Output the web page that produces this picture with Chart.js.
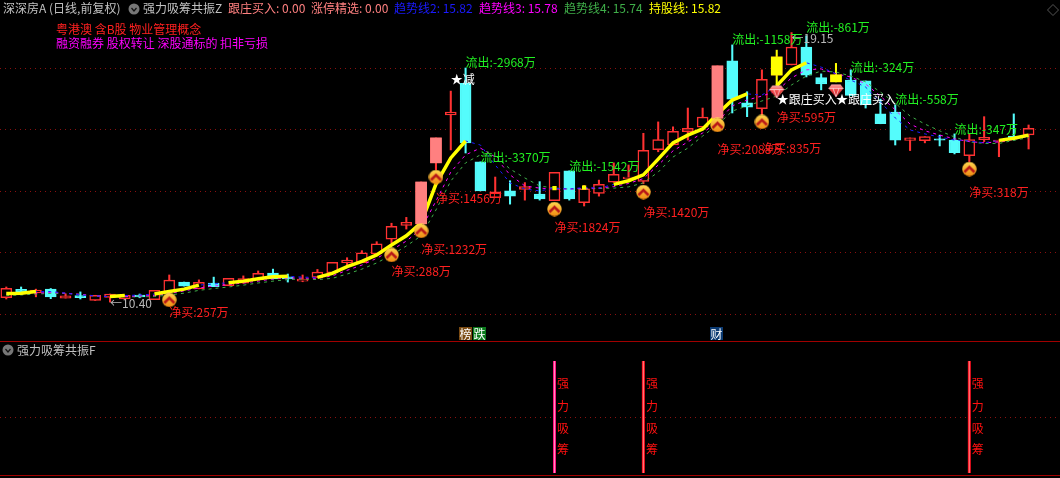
<!DOCTYPE html>
<html>
<head>
<meta charset="utf-8">
<script src="https://cdn.jsdelivr.net/npm/chart.js@4/dist/chart.umd.min.js"></script>
<style>
    html, body { margin: 0; background: #000; }
    #stage { position: relative; width: 1060px; height: 478px; overflow: hidden; background: #000; font: 12px "Noto Sans CJK SC", sans-serif; }
    #stage canvas { position: absolute; left: 0; }
    .txt { position: absolute; white-space: pre; line-height: 14px; }
    .ico { position: absolute; }
    .rule { position: absolute; left: 0; width: 1060px; height: 1px; background: #a00000; }
</style>
</head>
<body>
<div id="stage">
    <canvas id="priceChart" width="1060" height="341" style="top:0"></canvas>
    <canvas id="signalChart" width="1060" height="137" style="top:341px"></canvas>
    <div class="rule" style="top:341px"></div>
    <div class="rule" style="top:475px"></div>

    <span class="txt" style="left:3px;top:1px;color:#c0c0c0">深深房A (日线,前复权)</span>
    <svg class="ico" style="left:128px;top:3px" width="12" height="12"><circle cx="6" cy="6" r="5.5" fill="#777"/><path d="M3.5 5 L6 8 L8.5 5" stroke="#111" stroke-width="1.2" fill="none"/></svg>
    <span class="txt" style="left:143px;top:1px;color:#c0c0c0">强力吸筹共振Z</span>
    <span class="txt" style="left:228px;top:1px;color:#ff8080">跟庄买入: 0.00</span>
    <span class="txt" style="left:311px;top:1px;color:#ff8080">涨停精选: 0.00</span>
    <span class="txt" style="left:394px;top:1px;color:#1a1aff">趋势线2: 15.82</span>
    <span class="txt" style="left:479px;top:1px;color:#ff00ff">趋势线3: 15.78</span>
    <span class="txt" style="left:564px;top:1px;color:#3fae49">趋势线4: 15.74</span>
    <span class="txt" style="left:649px;top:1px;color:#ffff00">持股线: 15.82</span>
    <span class="txt" style="left:56px;top:22px;color:#ff2020">粤港澳 含B股 物业管理概念</span>
    <span class="txt" style="left:56px;top:36px;color:#ff00ff">融资融券 股权转让 深股通标的 扣非亏损</span>
    <svg class="ico" style="left:1047px;top:4px" width="12" height="12"><path d="M6 0.5 L11.5 6 L6 11.5 L0.5 6 Z" stroke="#555" fill="none"/></svg>

    <svg class="ico" style="left:2px;top:344px" width="12" height="12"><circle cx="6" cy="6" r="5.5" fill="#777"/><path d="M3.5 5 L6 8 L8.5 5" stroke="#111" stroke-width="1.2" fill="none"/></svg>
    <span class="txt" style="left:17px;top:343px;color:#c0c0c0">强力吸筹共振F</span>
</div>

<script>
// candles
const opens  = [10.54,10.81,10.70,10.82,10.53,10.61,10.45,10.55,10.50,10.63,
                10.48,10.73,11.05,10.83,11.02,10.93,11.01,11.12,11.34,11.22,
                11.08,11.20,11.35,11.68,11.68,11.96,12.44,12.89,12.94,14.92,
                16.48,17.50,14.95,13.79,14.01,14.06,13.91,13.69,14.66,13.63,
                13.93,14.29,14.40,14.32,15.35,15.50,15.93,16.08,16.37,18.23,
                16.87,16.68,17.77,18.10,18.68,17.69,17.55,17.61,17.58,16.51,
                16.57,15.65,15.64,15.70,15.66,15.15,15.67,15.60,15.79,15.83];
const highs  = [10.89,10.89,10.82,10.84,10.67,10.73,10.62,10.66,10.62,10.66,
                10.78,11.28,11.05,11.12,11.21,11.17,11.25,11.41,11.47,11.31,
                11.28,11.46,11.69,11.84,12.07,12.36,12.96,13.15,14.30,15.73,
                17.25,18.00,14.95,14.46,14.34,14.28,14.31,14.61,14.66,14.19,
                14.36,14.92,14.85,15.88,16.25,16.09,16.70,16.70,18.07,18.75,
                17.23,17.94,18.58,19.15,19.04,17.81,18.15,17.94,17.58,16.99,
                16.80,15.73,15.77,15.82,15.86,15.86,16.42,15.66,16.51,16.15];
const lows   = [10.50,10.70,10.57,10.51,10.53,10.50,10.45,10.40,10.50,10.54,
                10.48,10.66,10.92,10.83,10.90,10.93,11.01,11.12,11.15,11.05,
                11.06,11.20,11.35,11.60,11.68,11.96,12.32,12.77,12.94,14.69,
                15.34,15.24,14.01,13.79,13.58,13.71,13.71,13.69,13.71,13.52,
                13.84,14.29,14.36,14.24,15.28,15.50,15.66,16.08,16.37,16.54,
                16.42,16.47,17.42,18.10,17.71,17.29,17.55,17.11,16.70,16.19,
                15.50,15.32,15.57,15.47,15.21,14.96,15.61,15.12,15.66,15.37];
const closes = [10.85,10.73,10.79,10.57,10.60,10.54,10.62,10.66,10.62,10.57,
                10.78,11.11,10.92,11.04,10.90,11.17,11.16,11.33,11.15,11.15,
                11.15,11.37,11.69,11.76,12.00,12.29,12.86,12.99,14.30,15.73,
                16.57,15.57,14.01,13.98,13.84,14.15,13.75,14.61,13.75,14.08,
                14.22,14.55,14.46,15.33,15.68,15.94,16.04,16.41,18.07,16.99,
                16.73,17.63,18.36,18.68,17.77,17.48,17.78,17.11,16.81,16.19,
                15.66,15.73,15.77,15.66,15.25,15.68,15.75,15.66,15.70,16.04];

// indicator lines
const trend2 = [10.68,10.69,10.74,10.74,10.69,10.63,10.60,10.58,10.61,10.63,
                10.66,10.74,10.82,10.95,10.99,11.03,11.08,11.16,11.22,11.24,
                11.21,11.20,11.33,11.55,11.72,11.93,12.25,12.55,12.97,14.23,
                15.08,15.63,15.50,14.85,14.27,14.07,14.01,14.10,14.07,14.12,
                14.10,14.22,14.34,14.53,15.04,15.57,15.82,16.02,16.51,16.96,
                17.16,17.12,17.42,17.94,18.17,18.03,17.81,17.61,17.38,16.90,
                16.38,15.99,15.86,15.76,15.66,15.63,15.57,15.65,15.72,15.82];
const trend3 = [10.65,10.66,10.69,10.71,10.69,10.65,10.60,10.57,10.58,10.60,
                10.61,10.68,10.76,10.86,10.92,10.97,11.02,11.08,11.15,11.18,
                11.18,11.17,11.25,11.43,11.60,11.82,12.09,12.38,12.77,13.68,
                14.62,15.18,15.40,15.11,14.53,14.17,14.10,14.07,14.07,14.09,
                14.10,14.15,14.25,14.41,14.85,15.31,15.60,15.89,16.25,16.77,
                16.96,17.09,17.25,17.68,17.94,17.97,17.81,17.71,17.48,17.09,
                16.64,16.18,15.96,15.82,15.70,15.61,15.57,15.60,15.68,15.78];
const trend4 = [10.61,10.63,10.66,10.68,10.68,10.65,10.60,10.57,10.57,10.57,
                10.58,10.63,10.69,10.78,10.84,10.89,10.95,11.02,11.08,11.13,
                11.15,11.13,11.17,11.31,11.47,11.67,11.93,12.22,12.55,13.39,
                14.33,14.92,15.18,15.16,14.72,14.43,14.17,14.10,14.07,14.07,
                14.09,14.10,14.14,14.27,14.62,15.11,15.40,15.79,16.15,16.60,
                16.77,16.93,17.09,17.45,17.74,17.90,17.87,17.74,17.55,17.22,
                16.86,16.44,16.18,15.96,15.76,15.60,15.55,15.55,15.65,15.74];
const holdLine = [10.68,10.69,10.74,null,null,null,null,10.58,10.61,null,
                10.66,10.74,10.82,10.95,null,11.03,11.08,11.16,11.22,11.24,
                null,11.20,11.33,11.55,11.72,11.93,12.25,12.55,12.97,14.23,
                15.08,15.63,null,null,null,null,null,14.10,null,14.12,
                null,14.22,14.34,14.53,15.04,15.57,15.82,16.02,16.51,16.96,
                17.16,null,17.42,17.94,18.17,null,null,null,null,null,
                null,null,null,null,null,null,null,15.65,15.72,15.82];

// sticks painted over the candles
const limitUpBars = [28, 29, 48];
const holdBars = [52, 56];

// signal icons
const arrowIdx   = [11, 26, 28, 29, 37, 43, 48, 51, 65];
const arrowPrice = [10.47, 11.93, 12.71, 14.46, 13.42, 13.97, 16.15, 16.25, 14.72];
const gemIdx     = [52, 56];
const gemPrice   = [17.22, 17.26];

// text on the chart, left edge sits on the candle centre
const outIdx    = [31, 32, 38, 49, 54, 57, 60, 64];
const outPrice  = [18.19, 15.11, 14.79, 18.94, 19.31, 18.03, 16.99, 15.99];
const outText   = ['流出:-2968万','流出:-3370万','流出:-1542万','流出:-1158万','流出:-861万','流出:-324万','流出:-558万','流出:-347万'];
const buyIdx    = [11, 26, 28, 29, 37, 43, 48, 51, 52, 65];
const buyPrice  = [10.05, 11.41, 12.12, 13.75, 12.81, 13.32, 15.37, 15.40, 16.38, 13.97];
const buyText   = ['净买:257万','净买:288万','净买:1232万','净买:1456万','净买:1824万','净买:1420万','净买:2088万','净买:835万','净买:595万','净买:318万'];
const whiteIdx  = [30, 52, 56];
const whitePrice = [17.64, 16.99, 16.99];
const whiteText = ['★减','★跟庄买入','★跟庄买入'];
const greyIdx   = [7, 53];
const greyPrice = [10.37, 18.97];
const greyText  = ['←10.40','←19.15'];

// flags sitting on the pane divider
const flagIdx   = [31, 32, 48];
const flagText  = ['榜', '跌', '财'];
const flagColor = ['#7a4a12', '#0b7a1c', '#0b3a72'];

// lower pane
const gridPrices = [10, 12, 14, 16, 18];
const signalIdx = [37, 43, 65];
const signalOn  = [1, 1, 1];
const signalGrid = [0.5];
const signalWords = ['强', '力', '吸', '筹'];
const signalWordY = [0.80, 0.59, 0.40, 0.21];

const RED = '#ff3232', CYAN = '#54fcfc', PINK = '#ff8080', YELLOW = '#ffff00';
const FONT = '12px "Noto Sans CJK SC", sans-serif';
const xRange = { min: -0.425, max: 71.12 };

function series(arr) {
    return arr.map((v, i) => ({ x: i, y: v }));
}

function picked(idx, values) {
    return idx.map((n, i) => ({ x: n, y: values[i] }));
}

function bodyRange(idx) {
    return idx.map(n => ({ x: n, y: [opens[n], closes[n]] }));
}

function makeArrowIcon() {
    const c = document.createElement('canvas');
    c.width = c.height = 15;
    const g = c.getContext('2d');
    const fill = g.createLinearGradient(0, 0, 0, 15);
    fill.addColorStop(0, '#ffd850');
    fill.addColorStop(1, '#f08810');
    g.fillStyle = fill;
    g.beginPath();
    g.arc(7.5, 7.5, 7.2, 0, Math.PI * 2);
    g.fill();
    g.strokeStyle = '#b81818';
    g.lineWidth = 2.6;
    g.beginPath();
    g.moveTo(2.5, 10.5);
    g.lineTo(7.5, 5.5);
    g.lineTo(12.5, 10.5);
    g.stroke();
    return c;
}

function makeGemIcon() {
    const c = document.createElement('canvas');
    c.width = 16;
    c.height = 14;
    const g = c.getContext('2d');
    const fill = g.createLinearGradient(0, 0, 0, 14);
    fill.addColorStop(0, '#ffb0b0');
    fill.addColorStop(0.45, '#f04848');
    fill.addColorStop(1, '#c01020');
    g.fillStyle = fill;
    g.beginPath();
    g.moveTo(3.5, 0.5);
    g.lineTo(12.5, 0.5);
    g.lineTo(15.5, 4.5);
    g.lineTo(8, 13.5);
    g.lineTo(0.5, 4.5);
    g.closePath();
    g.fill();
    g.strokeStyle = 'rgba(255,220,220,0.8)';
    g.lineWidth = 1;
    g.beginPath();
    g.moveTo(0.5, 4.5);
    g.lineTo(15.5, 4.5);
    g.moveTo(5, 4.5);
    g.lineTo(8, 13);
    g.lineTo(11, 4.5);
    g.stroke();
    return c;
}

// draws the texts and the flags through the chart's own scales
const priceTexts = {
    id: 'priceTexts',
    afterDatasetsDraw(chart) {
        const { ctx, scales: { x, y } } = chart;
        ctx.save();
        ctx.font = FONT;
        ctx.textBaseline = 'middle';
        ctx.textAlign = 'left';
        const put = (idx, prices, texts, color) => {
            ctx.fillStyle = color;
            idx.forEach((n, i) => ctx.fillText(texts[i], x.getPixelForValue(n), y.getPixelForValue(prices[i])));
        };
        put(greyIdx, greyPrice, greyText, '#b8b8b8');
        put(outIdx, outPrice, outText, '#22f022');
        put(buyIdx, buyPrice, buyText, '#ff2020');
        put(whiteIdx, whitePrice, whiteText, '#ffffff');

        flagIdx.forEach((n, i) => {
            const px = Math.round(x.getPixelForValue(n));
            ctx.fillStyle = flagColor[i];
            ctx.fillRect(px - 7, 327, 13, 13);
            ctx.fillStyle = '#ffffff';
            ctx.textAlign = 'center';
            ctx.fillText(flagText[i], px - 0.5, 334);
        });
        ctx.restore();
    }
};

const signalTexts = {
    id: 'signalTexts',
    afterDatasetsDraw(chart) {
        const { ctx, scales: { x, y } } = chart;
        ctx.save();
        ctx.font = FONT;
        ctx.textBaseline = 'middle';
        ctx.fillStyle = '#ff1010';
        signalIdx.forEach(n => {
            signalWords.forEach((w, i) => ctx.fillText(w, x.getPixelForValue(n) + 2.5, y.getPixelForValue(signalWordY[i])));
        });
        ctx.restore();
    }
};

function baseOptions(yMin, yMax, gridTicks) {
    return {
        responsive: false,
        animation: false,
        events: [],
        layout: { padding: 0, autoPadding: false },
        plugins: { legend: { display: false }, tooltip: { enabled: false } },
        scales: {
            x: { type: 'linear', display: false, offset: false, min: xRange.min, max: xRange.max },
            y: {
                type: 'linear',
                min: yMin,
                max: yMax,
                afterFit: s => { s.width = 0; },
                afterBuildTicks: s => { s.ticks = gridTicks.map(v => ({ value: v })); },
                ticks: { display: false },
                border: { display: false, dash: [1, 4] },
                grid: { color: '#8a1010', drawTicks: false, lineWidth: 1 }
            }
        }
    };
}

const wickColors = opens.map((o, i) => {
    if (holdBars.includes(i)) return YELLOW;
    return closes[i] >= o ? RED : CYAN;
});

new Chart(document.getElementById('priceChart'), {
    type: 'bar',
    data: {
        datasets: [
            { label: 'wick', order: 9, grouped: false, barThickness: 1.4, borderWidth: 0,
              data: opens.map((o, i) => ({ x: i, y: [lows[i], highs[i]] })),
              backgroundColor: wickColors },
            { label: 'body', order: 8, grouped: false, barThickness: 11, borderWidth: 1.5, borderSkipped: false,
              data: opens.map((o, i) => ({ x: i, y: [o, closes[i]] })),
              backgroundColor: opens.map((o, i) => closes[i] >= o ? '#000000' : CYAN),
              borderColor: opens.map((o, i) => closes[i] >= o ? RED : CYAN) },
            { type: 'line', label: '趋势线4', order: 7, data: series(trend4), borderColor: '#3fae49', borderWidth: 1, borderDash: [3, 4], pointRadius: 0 },
            { type: 'line', label: '趋势线3', order: 6, data: series(trend3), borderColor: '#ff00ff', borderWidth: 1, borderDash: [3, 4], pointRadius: 0 },
            { type: 'line', label: '趋势线2', order: 5, data: series(trend2), borderColor: '#1a1aff', borderWidth: 1, borderDash: [3, 4], pointRadius: 0 },
            { type: 'line', label: '持股线', order: 4, data: series(holdLine), borderColor: YELLOW, backgroundColor: YELLOW, borderWidth: 3.5,
              pointStyle: 'rect',
              pointRadius: ctx => (holdLine[ctx.dataIndex] !== null && holdLine[ctx.dataIndex - 1] == null && holdLine[ctx.dataIndex + 1] == null) ? 3 : 0,
              pointBorderWidth: 0 },
            { label: 'limit up', order: 3, grouped: false, barThickness: 11, borderWidth: 0, borderSkipped: false,
              data: bodyRange(limitUpBars), backgroundColor: PINK },
            { label: 'hold', order: 3, grouped: false, barThickness: 11, borderWidth: 0, borderSkipped: false,
              data: bodyRange(holdBars), backgroundColor: YELLOW },
            { type: 'scatter', label: 'arrow', order: 2, showLine: false, data: picked(arrowIdx, arrowPrice), pointStyle: makeArrowIcon() },
            { type: 'scatter', label: 'gem', order: 2, showLine: false, data: picked(gemIdx, gemPrice), pointStyle: makeGemIcon() }
        ]
    },
    options: baseOptions(9.136, 20.208, gridPrices),
    plugins: [priceTexts]
});

new Chart(document.getElementById('signalChart'), {
    type: 'bar',
    data: {
        datasets: [
            { label: 'signal', order: 2, grouped: false, barThickness: 3, borderWidth: 0, inflateAmount: 0,
              data: picked(signalIdx, signalOn), backgroundColor: ['#ff1080', '#ff1020', '#ff1020'] },
            { label: 'signal core', order: 1, grouped: false, barThickness: 1, borderWidth: 0, inflateAmount: 0,
              data: picked(signalIdx, signalOn), backgroundColor: ['#ff90c0', '#ff8080', '#ff8080'] }
        ]
    },
    options: baseOptions(-0.0446, 1.1786, signalGrid),
    plugins: [signalTexts]
});
</script>
</body>
</html>
